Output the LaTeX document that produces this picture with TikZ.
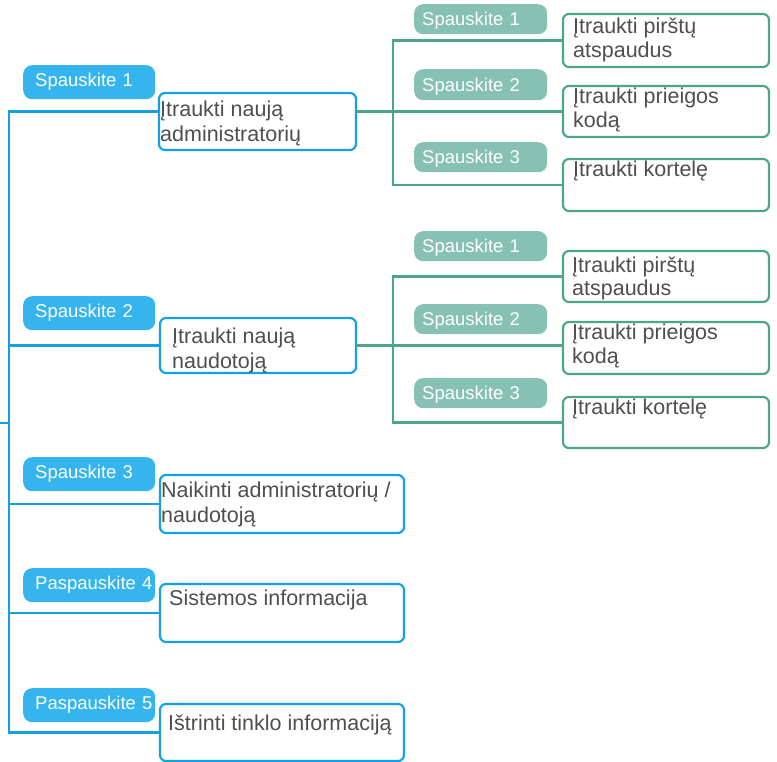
\documentclass[tikz,border=0pt]{standalone}
\usepackage{fontspec}
\setmainfont{Liberation Sans}
\definecolor{bline}{HTML}{13A0E6}
\definecolor{bpillc}{HTML}{35B4EE}
\definecolor{gline}{HTML}{4EA68A}
\definecolor{gpillc}{HTML}{86C1B3}
\definecolor{txtc}{HTML}{4F4F4F}
\begin{document}
\begin{tikzpicture}[x=1pt,y=-1pt,
  bbox/.style={draw=bline, line width=2.2pt, rounded corners=6pt, fill=white, anchor=north west, inner sep=0pt, outer sep=0pt},
  gbox/.style={draw=gline, line width=2.2pt, rounded corners=6pt, fill=white, anchor=north west, inner sep=0pt, outer sep=0pt, minimum width=206pt},
  bpill/.style={fill=bpillc, rounded corners=9pt, anchor=north west, minimum width=132pt, minimum height=34pt, text width=108pt, inner xsep=12pt, inner ysep=0pt, align=left, text=white, font=\fontsize{18.5}{22}\selectfont, text height=13pt, text depth=4pt},
  gpill/.style={fill=gpillc, rounded corners=9pt, anchor=north west, minimum width=133pt, text width=117pt, inner xsep=8pt, inner ysep=0pt, align=left, text=white, font=\fontsize{18.5}{22}\selectfont, text height=13pt, text depth=0pt},
  btxt/.style={anchor=base west, inner sep=0pt, align=left, text=txtc, font=\fontsize{21.5}{25}\selectfont},
  gtxt/.style={anchor=base west, inner sep=0pt, align=left, text=txtc, font=\fontsize{21.5}{24}\selectfont},
  bl/.style={draw=bline, line width=2.4pt},
  gl/.style={draw=gline, line width=2.4pt}]
\useasboundingbox (0,0) rectangle (777,762);

% blue main boxes
\node[bbox, minimum width=197pt, minimum height=57pt] (b1) at (159,93) {};
\node[bbox, minimum width=196pt, minimum height=55pt] (b2) at (160,318) {};
\node[bbox, minimum width=244pt, minimum height=58pt] (b3) at (160,475) {};
\node[bbox, minimum width=244pt, minimum height=58pt] (b4) at (160,584) {};
\node[bbox, minimum width=244pt, minimum height=57pt] (b5) at (160,704) {};

% green children (top)
\node[gbox, minimum height=53pt] (a1) at (563,14) {};
\node[gbox, minimum height=51pt] (a2) at (563,86) {};
\node[gbox, minimum height=52pt] (a3) at (563,159) {};
% green children (lower)
\node[gbox, minimum height=51pt] (c1) at (563,251) {};
\node[gbox, minimum height=52pt] (c2) at (563,322) {};
\node[gbox, minimum height=51pt] (c3) at (563,397) {};

% blue pills
\node[bpill] (p1) at (23,65) {Spauskite~1};
\node[bpill] (p2) at (23,296) {Spauskite~2};
\node[bpill] (p3) at (23,457) {Spauskite~3};
\node[bpill] (p4) at (23,568) {Paspauskite~4};
\node[bpill] (p5) at (23,688) {Paspauskite~5};

% green pills
\node[gpill, minimum height=30pt] (q1) at (414,4) {Spauskite~1};
\node[gpill, minimum height=31pt] (q2) at (414,69) {Spauskite~2};
\node[gpill, minimum height=30pt] (q3) at (414,142) {Spauskite~3};
\node[gpill, minimum height=30pt] (r1) at (414,231) {Spauskite~1};
\node[gpill, minimum height=30pt] (r2) at (414,304) {Spauskite~2};
\node[gpill, minimum height=30pt] (r3) at (414,378) {Spauskite~3};

% box texts (base anchor = last line baseline)
\node[btxt] (t1) at (160,142) {Įtraukti naują\\administratorių};
\node[btxt] (t2) at (172,368) {Įtraukti naują\\naudotoją};
\node[btxt] (t3) at (161,522) {Naikinti administratorių /\\naudotoją};
\node[btxt] (t4) at (169,605) {Sistemos informacija};
\node[btxt] (t5) at (168,730) {Ištrinti tinklo informaciją};

\node[gtxt] (u1) at (573,58) {Įtraukti pirštų\\atspaudus};
\node[gtxt] (u2) at (573,128) {Įtraukti prieigos\\kodą};
\node[gtxt] (u3) at (573,177) {Įtraukti kortelę};
\node[gtxt] (v1) at (572,296) {Įtraukti pirštų\\atspaudus};
\node[gtxt] (v2) at (572,363) {Įtraukti prieigos\\kodą};
\node[gtxt] (v3) at (572,414) {Įtraukti kortelę};

% blue trunk
\coordinate (tr) at (9,0);
\coordinate (root) at (0,423);
\coordinate (k1) at (b1.west |- a2.west);
\draw[bl] (root) -- (root -| tr);
\draw[bl] (k1) -- (k1 -| tr) -- (b5.west -| tr) -- (b5.west);
\draw[bl] (b2.west) -- (b2.west -| tr);
\draw[bl] (b3.west) -- (b3.west -| tr);
\draw[bl] (b4.west) -- (b4.west -| tr);

% green subtree top
\coordinate (ga) at (393,0);
\draw[gl] (b1.east |- a2.west) -- (a2.west);
\draw[gl] (a1.west) -- (a1.west -| ga) -- (a3.west -| ga) -- (a3.west);
% green subtree lower
\draw[gl] (b2.east) -- (b2.east -| c2.west);
\draw[gl] (c1.west) -- (c1.west -| ga) -- (c3.west -| ga) -- (c3.west);
\end{tikzpicture}
\end{document}
